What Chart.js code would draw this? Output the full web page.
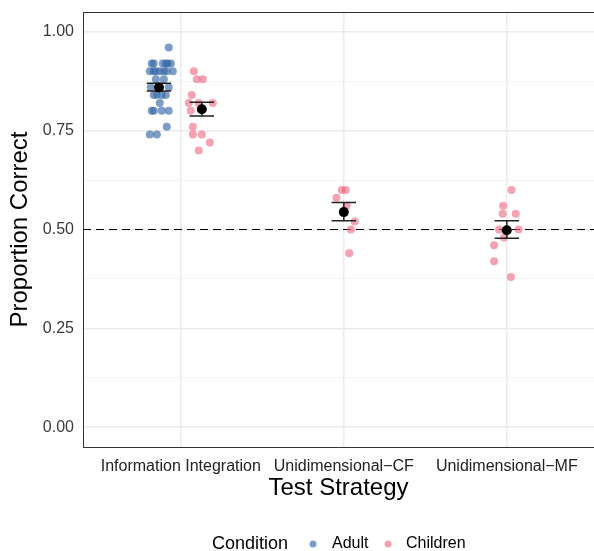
<!DOCTYPE html>
<html>
<head>
<meta charset="utf-8">
<script src="https://cdn.jsdelivr.net/npm/chart.js@4/dist/chart.umd.min.js"></script>
<style>
  body { margin: 0; background: #fff; }
  #chart { display: block; }
</style>
</head>
<body>
<canvas id="chart" width="594" height="551"></canvas>
<script>
// --- Data ---
const categories = ['Information Integration', 'Unidimensional\u2212CF', 'Unidimensional\u2212MF'];
const yTicks = [0, 0.125, 0.25, 0.375, 0.5, 0.625, 0.75, 0.875, 1];

// Adult (Information Integration only), x = category position + jitter
const adultX = [0.926,
  0.822, 0.834, 0.890, 0.908, 0.920, 0.939,
  0.810, 0.834, 0.847, 0.871, 0.896, 0.914, 0.951,
  0.847, 0.896,
  0.816, 0.865, 0.926,
  0.834, 0.853, 0.883, 0.908,
  0.871,
  0.822, 0.834, 0.883, 0.926,
  0.914,
  0.810, 0.853];
const adultY = [0.96,
  0.92, 0.92, 0.92, 0.92, 0.92, 0.92,
  0.90, 0.90, 0.90, 0.90, 0.90, 0.90, 0.90,
  0.88, 0.88,
  0.86, 0.86, 0.86,
  0.84, 0.84, 0.84, 0.84,
  0.82,
  0.80, 0.80, 0.80, 0.80,
  0.76,
  0.74, 0.74];

// Children, all three strategies
const childX = [1.080, 1.098, 1.135, 1.067, 1.049, 1.110, 1.196, 1.061, 1.074, 1.074, 1.129, 1.178, 1.110,
  1.988, 2.012, 1.955, 2.017, 2.067, 2.043, 2.033,
  3.029, 2.977, 2.974, 3.055, 2.953, 3.072, 2.983, 2.922, 2.922, 3.025];
const childY = [0.90, 0.88, 0.88, 0.84, 0.82, 0.82, 0.82, 0.80, 0.76, 0.74, 0.74, 0.72, 0.70,
  0.60, 0.60, 0.58, 0.56, 0.52, 0.50, 0.44,
  0.60, 0.56, 0.54, 0.54, 0.50, 0.50, 0.48, 0.46, 0.42, 0.38];

// Group means with error bars
const meanX = [0.866, 1.129, 2.0, 3.0];
const meanY = [0.859, 0.804, 0.544, 0.498];
const lowerY = [0.850, 0.787, 0.522, 0.478];
const upperY = [0.870, 0.822, 0.568, 0.522];

const chanceLevel = 0.5;

const blue = 'rgba(55,105,168,0.65)';
const pink = 'rgba(238,100,125,0.6)';
const FONT = "'Liberation Sans', Arial, Helvetica, sans-serif";
const capHalf = 0.075;
const xMin = 0.4, xMax = 3.535;

// error bars as line segments separated by gaps
const errorBars = [];
meanX.forEach((x, i) => {
    errorBars.push({ x: x - capHalf, y: upperY[i] }, { x: x + capHalf, y: upperY[i] }, { x: x, y: null });
    errorBars.push({ x: x, y: upperY[i] }, { x: x, y: lowerY[i] }, { x: x, y: null });
    errorBars.push({ x: x - capHalf, y: lowerY[i] }, { x: x + capHalf, y: lowerY[i] }, { x: x, y: null });
});

// top panel border + legend
const extras = {
    id: 'extras',
    afterDraw(chart) {
        const { ctx, chartArea } = chart;
        ctx.save();
        ctx.strokeStyle = '#333';
        ctx.lineWidth = 1;
        ctx.beginPath();
        ctx.moveTo(chartArea.left, chartArea.top + 0.5);
        ctx.lineTo(chart.width, chartArea.top + 0.5);
        ctx.stroke();

        // legend
        const y = 544;
        ctx.textBaseline = 'middle';
        ctx.fillStyle = '#000';
        ctx.font = '18px ' + FONT;
        ctx.fillText('Condition', 212, y);
        ctx.font = '16px ' + FONT;
        ctx.fillStyle = blue;
        ctx.beginPath(); ctx.arc(313, y, 3.5, 0, Math.PI * 2); ctx.fill();
        ctx.fillStyle = '#000';
        ctx.fillText('Adult', 332, y);
        ctx.fillStyle = pink;
        ctx.beginPath(); ctx.arc(388, y, 3.5, 0, Math.PI * 2); ctx.fill();
        ctx.fillStyle = '#000';
        ctx.fillText('Children', 406, y);
        ctx.restore();
    }
};

new Chart(document.getElementById('chart'), {
    type: 'scatter',
    data: {
        datasets: [
            {
                label: 'Mean',
                data: meanX.map((x, i) => ({ x, y: meanY[i] })),
                backgroundColor: '#000',
                borderWidth: 0,
                pointRadius: 5
            },
            {
                label: 'SE',
                type: 'line',
                data: errorBars,
                borderColor: '#222',
                borderWidth: 1.5,
                pointRadius: 0,
                spanGaps: false
            },
            {
                label: 'Children',
                data: childX.map((x, i) => ({ x, y: childY[i] })),
                backgroundColor: pink,
                borderWidth: 0,
                pointRadius: 4
            },
            {
                label: 'Adult',
                data: adultX.map((x, i) => ({ x, y: adultY[i] })),
                backgroundColor: blue,
                borderWidth: 0,
                pointRadius: 4
            },
            {
                label: 'Chance',
                type: 'line',
                data: [{ x: xMin, y: chanceLevel }, { x: xMax, y: chanceLevel }],
                borderColor: '#000',
                borderWidth: 1.2,
                borderDash: [8, 5],
                pointRadius: 0
            }
        ]
    },
    options: {
        responsive: false,
        animation: false,
        devicePixelRatio: 1,
        layout: { autoPadding: false, padding: { left: 0, right: 0, top: 12, bottom: 44 } },
        plugins: {
            legend: { display: false },
            tooltip: { enabled: false }
        },
        scales: {
            x: {
                type: 'linear',
                min: xMin,
                max: xMax,
                afterBuildTicks: scale => { scale.ticks = categories.map((c, i) => ({ value: i + 1 })); },
                afterFit: scale => { scale.height = 60; scale.paddingLeft = 0; scale.paddingRight = 0; },
                ticks: {
                    autoSkip: false,
                    maxRotation: 0,
                    minRotation: 0,
                    padding: 10,
                    color: '#222',
                    font: { family: FONT, size: 16 },
                    callback: v => categories[Math.round(v) - 1]
                },
                grid: { color: '#ebebeb', lineWidth: 1.5, drawTicks: false },
                border: { display: true, color: '#333', width: 1 },
                title: {
                    display: true,
                    text: 'Test Strategy',
                    color: '#000',
                    font: { family: FONT, size: 24 },
                    padding: { top: 0, bottom: 4 }
                }
            },
            y: {
                min: -0.05,
                max: 1.05,
                afterBuildTicks: scale => { scale.ticks = yTicks.map(v => ({ value: v })); },
                afterFit: scale => { scale.width = 83; scale.paddingTop = 0; scale.paddingBottom = 0; },
                ticks: {
                    padding: 9,
                    color: '#3a3a3a',
                    font: { family: FONT, size: 16 },
                    callback: v => (Math.abs(v * 4 - Math.round(v * 4)) < 1e-6 ? v.toFixed(2) : '')
                },
                grid: {
                    drawTicks: false,
                    color: ctx => (Math.abs(ctx.tick.value * 4 - Math.round(ctx.tick.value * 4)) < 1e-6 ? '#ebebeb' : '#f5f5f5'),
                    lineWidth: ctx => (Math.abs(ctx.tick.value * 4 - Math.round(ctx.tick.value * 4)) < 1e-6 ? 1.5 : 1)
                },
                border: { display: true, color: '#333', width: 1 },
                title: {
                    display: true,
                    text: 'Proportion Correct',
                    color: '#000',
                    font: { family: FONT, size: 24 },
                    padding: { top: 6, bottom: 0 }
                }
            }
        }
    },
    plugins: [extras]
});
</script>
</body>
</html>
